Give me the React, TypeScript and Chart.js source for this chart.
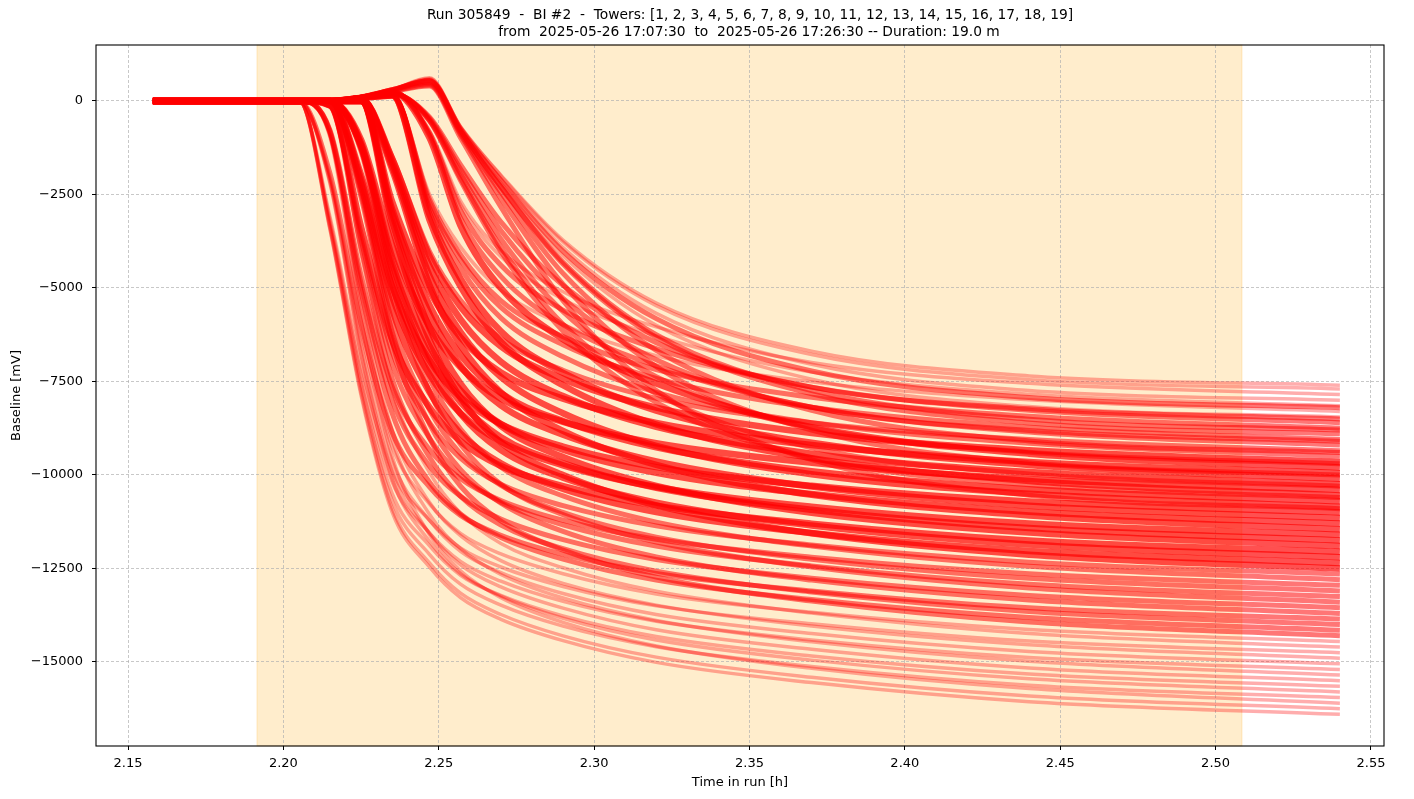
import React, { useEffect, useRef } from 'react';
import { Chart, registerables } from 'chart.js';

Chart.register(...registerables);

// time axis samples [h]
const TIME = [2.158, 2.205, 2.215, 2.225, 2.235, 2.247, 2.257, 2.27, 2.29, 2.32, 2.37, 2.44, 2.54];

// baseline curves [mV], grouped by how crowded that part of the bundle is
const CURVES_TOP = [
  [0, 0, 0, 100, 300, 620, -680, -1980, -3720, -5400, -6690, -7350, -7600],
  [0, 0, 0, 100, 300, 600, -690, -2000, -3770, -5470, -6780, -7450, -7700],
  [0, 0, 0, 90, 250, -785, -2670, -4000, -5100, -6040, -6990, -7550, -7850],
  [0, 0, 0, 100, 300, 580, -720, -2080, -3920, -5680, -7040, -7740, -8000],
  [0, 0, 0, 90, 250, -815, -2770, -4160, -5300, -6280, -7250, -7840, -8150],
  [0, 0, 0, 80, 150, -2490, -3900, -5060, -5980, -6810, -7510, -7990, -8300],
  [0, 0, 0, 100, 300, 560, -760, -2200, -4140, -6000, -7440, -8170, -8450],
];

const CURVES_UPPER = [
  [0, 0, 0, 90, 250, -860, -2920, -4390, -5590, -6620, -7650, -8270, -8600],
  [0, 0, 0, 80, 150, -2630, -4110, -5340, -6300, -7180, -7920, -8430, -8750],
  [0, 0, 0, 100, 300, 540, -800, -2310, -4360, -6320, -7830, -8610, -8900],
  [0, 0, 0, 80, 150, -2720, -4250, -5520, -6520, -7420, -8190, -8720, -9050],
  [0, 0, 0, 90, 250, -920, -3130, -4690, -5980, -7080, -8190, -8850, -9200],
  [0, 0, 0, 60, -1500, -4020, -5330, -6360, -7200, -7950, -8600, -9050, -9350],
  [0, 0, 0, 80, 150, -2850, -4470, -5800, -6840, -7790, -8600, -9150, -9500],
];

// channels that only start to fall after the small positive bump near 2.245 h
const CURVES_LATE = [
  [0, 0, 0, 100, 300, 540, -740, -2130, -4020, -5820, -7220, -7930, -8200],
  [0, 0, 0, 90, 200, -430, -1700, -3230, -4930, -6460, -7650, -8230, -8500],
  [0, 0, 0, 100, 300, 500, -790, -2290, -4310, -6250, -7740, -8510, -8800],
  [0, 0, 0, 90, 200, -460, -1820, -3460, -5280, -6920, -8190, -8810, -9100],
  [0, 0, 0, 100, 280, 460, -850, -2440, -4610, -6670, -8270, -9090, -9400],
  [0, 0, 0, 90, 200, -490, -1940, -3690, -5630, -7370, -8730, -9390, -9700],
  [0, 0, 0, 100, 260, 430, -900, -2600, -4900, -7100, -8800, -9670, -10000],
  [0, 0, 0, 90, 200, -520, -2060, -3910, -5970, -7830, -9270, -9970, -10300],
  [0, 0, 0, 80, 180, -530, -2120, -4030, -6150, -8060, -9540, -10260, -10600],
  [0, 0, 0, 100, 250, 400, -980, -2830, -5340, -7740, -9590, -10540, -10900],
];

const CURVES_MIDDLE = [
  [0, 0, 0, 60, -1540, -4150, -5500, -6560, -7430, -8200, -8880, -9340, -9650],
  [0, 0, 0, 90, 250, -980, -3330, -5000, -6370, -7550, -8720, -9430, -9800],
  [0, 0, 0, 0, -2690, -5070, -6320, -7260, -7960, -8610, -9200, -9650, -9950],
  [0, 0, 0, 80, 150, -3030, -4750, -6160, -7270, -8280, -9140, -9730, -10100],
  [0, 0, 0, 60, -1640, -4410, -5840, -6970, -7890, -8710, -9430, -9920, -10250],
  [0, 0, 0, -1040, -3850, -6030, -7120, -7960, -8580, -9150, -9670, -10110, -10400],
  [0, 0, 0, 80, 150, -3170, -4960, -6440, -7600, -8650, -9550, -10160, -10550],
  [0, 0, 0, 0, -2890, -5460, -6790, -7810, -8560, -9260, -9900, -10380, -10700],
  [0, 0, 0, 60, -1740, -4670, -6180, -7380, -8350, -9220, -9980, -10500, -10850],
  [0, 0, 0, -1980, -4950, -6930, -7920, -8640, -9240, -9790, -10290, -10710, -11000],
  [0, 0, 0, 0, -3010, -5690, -7080, -8140, -8920, -9640, -10310, -10820, -11150],
  [0, 0, 0, -1130, -4180, -6550, -7740, -8640, -9320, -9940, -10510, -10980, -11300],
  [0, 0, 0, 60, -1830, -4920, -6530, -7790, -8820, -9730, -10530, -11080, -11450],
  [0, 0, 0, -2090, -5220, -7310, -8350, -9110, -9740, -10320, -10850, -11300, -11600],
  [0, 0, 0, -1180, -4350, -6820, -8050, -8990, -9690, -10340, -10930, -11420, -11750],
  [0, 0, 0, 0, -3210, -6070, -7560, -8690, -9520, -10290, -11010, -11540, -11900],
  [0, 0, -120, -3370, -6390, -8190, -9100, -9760, -10300, -10820, -11300, -11750, -12050],
  [0, 0, 0, -1220, -4510, -7080, -8360, -9330, -10070, -10740, -11350, -11860, -12200],
  [0, 0, 0, -2220, -5560, -7780, -8890, -9690, -10370, -10990, -11550, -12030, -12350],
  [0, 0, 0, 0, -3380, -6380, -7940, -9130, -10000, -10810, -11560, -12130, -12500],
];

const CURVES_LOWER = [
  [0, 0, -130, -3540, -6700, -8600, -9550, -10250, -10820, -11360, -11870, -12330, -12650],
  [0, 0, 0, -1280, -4740, -7420, -8770, -9790, -10560, -11260, -11900, -12440, -12800],
  [0, 0, -780, -4660, -7640, -9320, -10100, -10680, -11210, -11720, -12200, -12640, -12950],
  [0, 0, 0, -2360, -5900, -8250, -9430, -10280, -11000, -11660, -12250, -12760, -13100],
  [0, 0, -130, -3710, -7020, -9010, -10000, -10730, -11330, -11900, -12430, -12920, -13250],
  [0, 0, 0, -1340, -4960, -7770, -9180, -10250, -11060, -11790, -12460, -13020, -13400],
  [0, 0, -810, -4880, -7990, -9760, -10570, -11180, -11730, -12260, -12760, -13220, -13550],
  [0, 0, 0, -2470, -6170, -8630, -9860, -10750, -11510, -12190, -12810, -13340, -13700],
  [0, 0, -1940, -5960, -8860, -10320, -11080, -11610, -12120, -12630, -13100, -13550, -13850],
  [0, 0, -140, -3920, -7420, -9520, -10570, -11340, -11970, -12570, -13130, -13650, -14000],
  [0, 0, -850, -5090, -8350, -10190, -11040, -11670, -12250, -12810, -13330, -13810, -14150],
  [0, 0, 0, -2570, -6440, -9010, -10300, -11230, -12010, -12730, -13370, -13930, -14300],
];

const CURVES_BOTTOM = [
  [0, 0, -2020, -6210, -9250, -10770, -11560, -12110, -12640, -13180, -13670, -14130, -14450],
  [0, 0, -150, -4090, -7740, -9930, -11020, -11830, -12480, -13110, -13690, -14240, -14600],
  [0, 0, -3100, -7080, -9880, -11210, -11950, -12460, -12980, -13500, -13980, -14440, -14750],
  [0, 0, -890, -5360, -8790, -10730, -11620, -12290, -12900, -13480, -14040, -14540, -14900],
  [0, 0, -2110, -6470, -9630, -11210, -12040, -12610, -13170, -13730, -14240, -14720, -15050],
  [0, 0, -3190, -7300, -10180, -11550, -12310, -12840, -13380, -13910, -14410, -14880, -15200],
  [0, 0, -920, -5530, -9060, -11050, -11970, -12660, -13290, -13890, -14460, -14980, -15350],
  [0, 0, -2170, -6670, -9920, -11550, -12400, -12990, -13560, -14140, -14660, -15160, -15500],
  [0, 0, -3290, -7510, -10490, -11890, -12680, -13220, -13770, -14320, -14840, -15320, -15650],
  [0, 0, -2210, -6790, -10110, -11770, -12640, -13240, -13830, -14410, -14950, -15450, -15800],
  [0, 0, -3350, -7660, -10690, -12120, -12920, -13480, -14040, -14590, -15120, -15620, -15950],
  [0, 0, -970, -5800, -9500, -11590, -12560, -13280, -13940, -14570, -15170, -15710, -16100],
  [0, 0, -3410, -7800, -10890, -12350, -13160, -13730, -14300, -14870, -15410, -15910, -16250],
  [0, 0, -3440, -7870, -10990, -12460, -13280, -13860, -14430, -15010, -15550, -16060, -16400],
];

// how many overlapping channels one drawn curve stands for in each group
const GROUPS = [
  { curves: CURVES_TOP, channels: 1 },
  { curves: CURVES_UPPER, channels: 2 },
  { curves: CURVES_LATE, channels: 2 },
  { curves: CURVES_MIDDLE, channels: 3 },
  { curves: CURVES_LOWER, channels: 2 },
  { curves: CURVES_BOTTOM, channels: 1 },
];

const X_TICKS = [2.15, 2.2, 2.25, 2.3, 2.35, 2.4, 2.45, 2.5, 2.55];
const Y_TICKS = [0, -2500, -5000, -7500, -10000, -12500, -15000];

const X_MIN = 2.1397;
const X_MAX = 2.5542;
const Y_MIN = -17246;
const Y_MAX = 1497;

// highlighted window (axvspan)
const SPAN_START = 2.1915;
const SPAN_END = 2.5085;

const TITLE = [
  'Run 305849  -  BI #2  -  Towers: [1, 2, 3, 4, 5, 6, 7, 8, 9, 10, 11, 12, 13, 14, 15, 16, 17, 18, 19]',
  'from  2025-05-26 17:07:30  to  2025-05-26 17:26:30 -- Duration: 19.0 m',
];

const FONT = 'DejaVu Sans';
const LINE_ALPHA = 0.32;

const spanPlugin = {
  id: 'span',
  beforeDraw: (chart: any) => {
    const { ctx, chartArea, scales } = chart;
    const x0 = scales.x.getPixelForValue(SPAN_START);
    const x1 = scales.x.getPixelForValue(SPAN_END);
    ctx.save();
    ctx.fillStyle = 'rgba(255,165,0,0.2)';
    ctx.fillRect(x0, chartArea.top, x1 - x0, chartArea.bottom - chartArea.top);
    ctx.strokeStyle = 'rgba(255,165,0,0.2)';
    ctx.lineWidth = 1;
    ctx.strokeRect(x0, chartArea.top, x1 - x0, chartArea.bottom - chartArea.top);
    ctx.restore();
  },
};

// frame on all four sides + two-line title centred like the original
const framePlugin = {
  id: 'frame',
  afterDraw: (chart: any) => {
    const { ctx, chartArea } = chart;
    ctx.save();
    ctx.strokeStyle = '#000';
    ctx.lineWidth = 1.1;
    ctx.strokeRect(chartArea.left, chartArea.top, chartArea.right - chartArea.left, chartArea.bottom - chartArea.top);
    ctx.fillStyle = '#000';
    ctx.font = `13.8px "${FONT}"`;
    ctx.textAlign = 'center';
    ctx.textBaseline = 'middle';
    ctx.fillText(TITLE[0], 750, 15);
    ctx.fillText(TITLE[1], 749, 32);
    ctx.restore();
  },
};

const fmtY = (v: number) => (v < 0 ? '\u2212' + Math.abs(v) : String(v));

const BaselineChart = () => {
  const chartRef = useRef<HTMLCanvasElement>(null);
  const chartInstanceRef = useRef<any>(null);

  useEffect(() => {
    const ctx = chartRef.current.getContext('2d');

    const datasets = GROUPS.flatMap((g) => {
      const alpha = 1 - Math.pow(1 - LINE_ALPHA, g.channels);
      return g.curves.map((row) => ({
        data: row.map((y, i) => ({ x: TIME[i], y })),
        borderColor: `rgba(255,0,0,${alpha.toFixed(3)})`,
        borderWidth: 2 + 1.5 * g.channels,
        pointRadius: 0,
        cubicInterpolationMode: 'monotone' as const,
        fill: false,
      }));
    });

    const grid = {
      color: '#b0b0b0',
      lineWidth: 0.7,
      tickColor: '#000',
      tickWidth: 1,
      tickLength: 4,
      tickBorderDash: [],
    };
    const border = { display: false, dash: [3, 2] };

    chartInstanceRef.current = new Chart(ctx, {
      type: 'line',
      data: { datasets },
      plugins: [spanPlugin, framePlugin],
      options: {
        animation: false,
        responsive: true,
        maintainAspectRatio: false,
        events: [],
        layout: { padding: { left: 0, right: 30, top: 45, bottom: 0 } },
        plugins: {
          legend: { display: false },
          tooltip: { enabled: false },
          title: { display: false },
        },
        scales: {
          x: {
            type: 'linear',
            min: X_MIN,
            max: X_MAX,
            afterBuildTicks: (axis: any) => {
              axis.ticks = X_TICKS.map((v) => ({ value: v }));
            },
            afterFit: (axis: any) => {
              axis.height = 53;
            },
            grid,
            border,
            ticks: {
              color: '#000',
              font: { family: FONT, size: 13 },
              padding: 6,
              maxRotation: 0,
              callback: (v: any) => Number(v).toFixed(2),
            },
            title: {
              display: true,
              text: 'Time in run [h]',
              color: '#000',
              font: { family: FONT, size: 13 },
              padding: { top: 0, bottom: 9 },
            },
          },
          y: {
            type: 'linear',
            min: Y_MIN,
            max: Y_MAX,
            afterBuildTicks: (axis: any) => {
              axis.ticks = Y_TICKS.map((v) => ({ value: v }));
            },
            afterFit: (axis: any) => {
              axis.width = 96;
            },
            grid,
            border,
            ticks: {
              color: '#000',
              font: { family: FONT, size: 13 },
              padding: 9,
              callback: (v: any) => fmtY(Number(v)),
            },
            title: {
              display: true,
              text: 'Baseline [mV]',
              color: '#000',
              font: { family: FONT, size: 13 },
              padding: { top: 9, bottom: 0 },
            },
          },
        },
      },
    });

    return () => {
      if (chartInstanceRef.current) {
        chartInstanceRef.current.destroy();
      }
    };
  }, []);

  return (
    <div style={{ position: 'absolute', left: 0, top: 0, width: '1414px', height: '799px', background: '#fff' }}>
      <canvas ref={chartRef} />
    </div>
  );
};

export default function App() {
  return <BaselineChart />;
}
